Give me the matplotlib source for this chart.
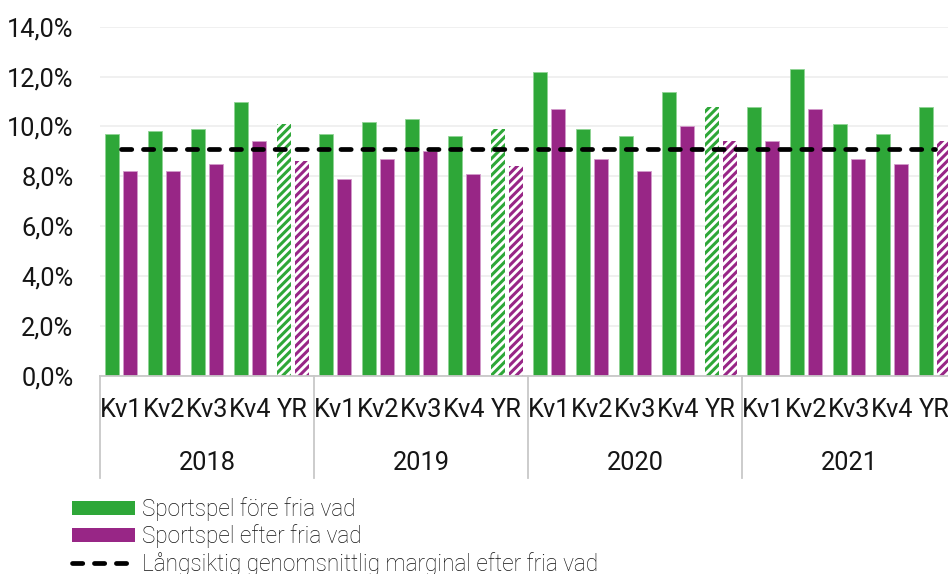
import matplotlib
matplotlib.use("Agg")
import matplotlib.pyplot as plt
import matplotlib.transforms as mtransforms
from matplotlib.patches import Patch
from matplotlib.lines import Line2D

plt.rcParams['font.family'] = ['Roboto', 'DejaVu Sans']
plt.rcParams['hatch.linewidth'] = 2.2
plt.rcParams['lines.scale_dashes'] = False

# ---- data ----
years = ['2018', '2019', '2020', '2021']
periods = ['Kv1', 'Kv2', 'Kv3', 'Kv4', 'YR']
fore = [9.7, 9.8, 9.9, 11.0, 10.1,
        9.7, 10.2, 10.3, 9.6, 9.9,
        12.2, 9.9, 9.6, 11.4, 10.8,
        10.8, 12.3, 10.1, 9.7, 10.8]
efter = [8.2, 8.2, 8.5, 9.4, 8.6,
         7.9, 8.7, 9.0, 8.1, 8.4,
         10.7, 8.7, 8.2, 10.0, 9.4,
         9.4, 10.7, 8.7, 8.5, 9.4]
marginal = 9.1
yticks = [0, 2, 4, 6, 8, 10, 12, 14]
labels = ['Sportspel före fria vad', 'Sportspel efter fria vad',
          'Långsiktig genomsnittlig marginal efter fria vad']

GREEN = '#2EA738'
PURPLE = '#982686'
W, H = 948, 574
FS = 18.3

fig = plt.figure(figsize=(W / 100, H / 100), dpi=100)
ax_left, ax_right = 100, 956
ax_top, ax_bot = 26.7, 376
ax = fig.add_axes([ax_left / W, 1 - ax_bot / H, (ax_right - ax_left) / W, (ax_bot - ax_top) / H])

n = len(fore)
xs = list(range(n))
bw = 0.327
off = 0.21
for i in xs:
    per = periods[i % len(periods)]
    is_yr = per == 'YR'
    g_hatch = is_yr and i != n - 1
    p_hatch = is_yr
    if g_hatch:
        ax.bar(i - off, fore[i], bw, facecolor='white', edgecolor=GREEN, hatch='////', linewidth=0)
    else:
        ax.bar(i - off, fore[i], bw, color=GREEN, edgecolor='#8fd495', linewidth=0.6)
    if p_hatch:
        ax.bar(i + off, efter[i], bw, facecolor='white', edgecolor=PURPLE, hatch='////', linewidth=0)
    else:
        ax.bar(i + off, efter[i], bw, color=PURPLE, edgecolor='#d39bcb', linewidth=0.6)

DASH_LW = 3.4
DASHES = (7.4, 8.4)
ax.plot([xs[0], xs[-1]], [marginal, marginal], color='black', lw=DASH_LW,
        dashes=DASHES, dash_capstyle='round', zorder=5)

ax.set_xlim(-0.5, n - 0.5)
ax.set_ylim(0, 14)
ax.set_yticks(yticks)
ax.set_yticklabels([f'{v:.1f}'.replace('.', ',') + '%' for v in yticks], fontsize=FS, color='#151515')
ax.tick_params(axis='y', length=0, pad=19)
ax.tick_params(axis='x', length=0, labelbottom=False)
ax.grid(axis='y', color='#efefef', lw=1.3)
ax.set_axisbelow(True)
for s in ['top', 'right', 'left']:
    ax.spines[s].set_visible(False)
ax.spines['bottom'].set_color('#c8c8c8')
ax.spines['bottom'].set_linewidth(1.3)

trans = mtransforms.blended_transform_factory(ax.transData, ax.transAxes)
ax_h = ax_bot - ax_top
y_kv = -34 / ax_h
y_year = -87 / ax_h
y_sep = -102 / ax_h
for i in xs:
    ax.text(i, y_kv, periods[i % len(periods)], transform=trans, ha='center', va='center',
            fontsize=FS, color='#151515', clip_on=False)
for k, yr in enumerate(years):
    c = k * len(periods) + (len(periods) - 1) / 2
    ax.text(c, y_year, yr, transform=trans, ha='center', va='center',
            fontsize=FS, color='#151515', clip_on=False)
for k in range(len(years) + 1):
    xb = k * len(periods) - 0.5
    ax.plot([xb, xb], [0, y_sep], transform=trans, color='#c8c8c8', lw=1.3, clip_on=False)

handles = [Patch(facecolor=GREEN, edgecolor='none'),
           Patch(facecolor=PURPLE, edgecolor='none'),
           Line2D([0], [0], color='black', lw=DASH_LW, dashes=DASHES, dash_capstyle='round')]
fs_leg = 16.3
leg = fig.legend(handles, labels, loc='upper left', bbox_to_anchor=(71.5 / W, 1 - 497 / H),
                 frameon=False, handlelength=2.8, handleheight=0.56,
                 handletextpad=0.3, labelspacing=0.16, borderpad=0, borderaxespad=0,
                 prop={'family': ['Roboto', 'DejaVu Sans'], 'size': fs_leg, 'weight': 'light'})
for t in leg.get_texts():
    t.set_color('#111111')

fig.savefig('out.png', dpi=100)
